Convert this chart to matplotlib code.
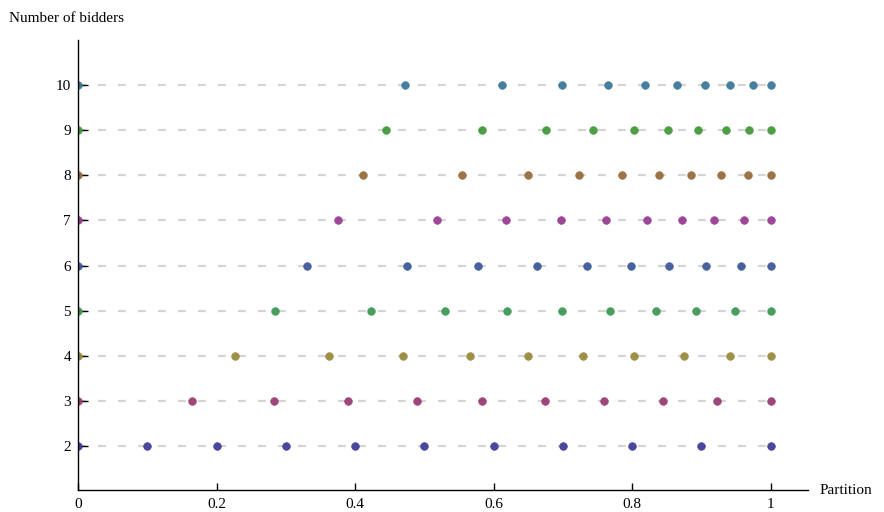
from __future__ import annotations

import matplotlib

matplotlib.use("Agg")
import matplotlib.pyplot as plt


BIDDERS = [2, 3, 4, 5, 6, 7, 8, 9, 10]

# Partition points for each number of bidders.
PARTITIONS = {
    2: [0.0, 0.1, 0.2, 0.3, 0.4, 0.5, 0.6, 0.7, 0.8, 0.9, 1.0],
    3: [0.0, 0.164, 0.283, 0.390, 0.490, 0.584, 0.674, 0.760, 0.844, 0.923, 1.0],
    4: [0.0, 0.227, 0.362, 0.469, 0.566, 0.650, 0.729, 0.803, 0.875, 0.941, 1.0],
    5: [0.0, 0.284, 0.423, 0.530, 0.620, 0.699, 0.768, 0.834, 0.892, 0.949, 1.0],
    6: [0.0, 0.331, 0.475, 0.578, 0.663, 0.735, 0.798, 0.854, 0.907, 0.957, 1.0],
    7: [0.0, 0.375, 0.518, 0.618, 0.697, 0.762, 0.821, 0.872, 0.918, 0.961, 1.0],
    8: [0.0, 0.411, 0.554, 0.650, 0.724, 0.786, 0.839, 0.885, 0.928, 0.967, 1.0],
    9: [0.0, 0.444, 0.584, 0.675, 0.744, 0.803, 0.852, 0.895, 0.936, 0.969, 1.0],
    10: [0.0, 0.472, 0.612, 0.699, 0.765, 0.819, 0.865, 0.905, 0.941, 0.974, 1.0],
}

X_TICKS = [0, 0.2, 0.4, 0.6, 0.8, 1.0]
X_TICK_LABELS = ["0", "0.2", "0.4", "0.6", "0.8", "1"]

# Old Mathematica default plot palette (Hue[h, 0.6, 0.6]).
COLORS = [
    "#3f3d99",
    "#993d71",
    "#998b3d",
    "#3d9956",
    "#3d5a99",
    "#993d90",
    "#996d3d",
    "#43993d",
    "#3d7999",
]


def main() -> int:
    plt.rcParams["font.family"] = ["Liberation Serif", "DejaVu Serif"]
    fs = 11

    fig = plt.figure(figsize=(8.84, 5.12), dpi=100)
    ax = fig.add_axes([78 / 884, 1 - 490 / 512, 730 / 884, 450 / 512])

    for n, color in zip(BIDDERS, COLORS):
        xs = PARTITIONS[n]
        ys = [n] * len(xs)
        ax.plot(xs, ys, color="#d4d4d4", lw=1.6, dashes=(3.5, 5.5), zorder=1)
        ax.plot(xs, ys, ls="none", marker="o", ms=5.6, mfc=color, mec=color,
                mew=0.4, alpha=0.95, zorder=3)

    ax.set_xlim(0, 1.054)
    ax.set_ylim(1.025, 11.0)

    for side in ("top", "right"):
        ax.spines[side].set_visible(False)
    for side in ("left", "bottom"):
        ax.spines[side].set_linewidth(1.0)
        ax.spines[side].set_zorder(4)

    ax.set_xticks(X_TICKS)
    ax.set_xticklabels(X_TICK_LABELS)
    ax.set_yticks(BIDDERS)
    ax.tick_params(axis="x", direction="in", length=5, width=1.0,
                   labelsize=fs, pad=5.5)
    ax.tick_params(axis="y", direction="in", length=7, width=1.0,
                   labelsize=fs, pad=5)

    fig.text(9 / 884, 1 - 18 / 512, "Number of bidders", ha="left",
             va="center", fontsize=fs)
    fig.text(820 / 884, 1 - 491 / 512, "Partition", ha="left", va="center",
             fontsize=fs)

    fig.savefig("out.png", dpi=100)
    plt.close(fig)
    return 0


if __name__ == "__main__":
    raise SystemExit(main())
